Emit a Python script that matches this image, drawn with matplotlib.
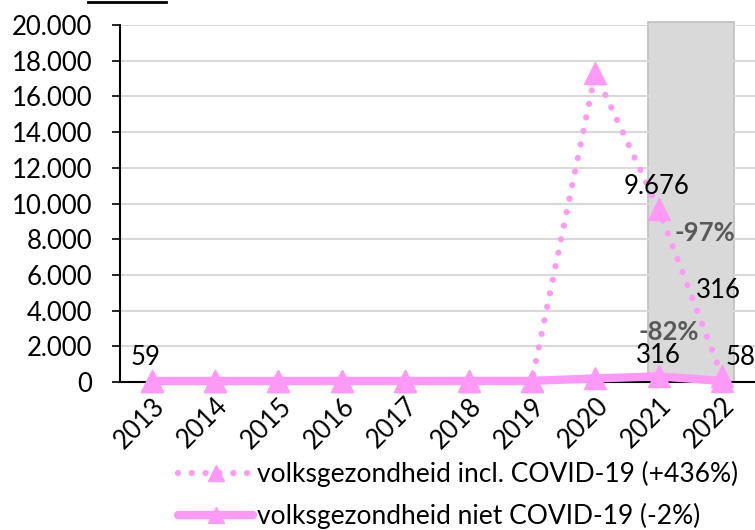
import matplotlib
matplotlib.use("Agg")
import matplotlib.pyplot as plt
from matplotlib.lines import Line2D

years = [2013, 2014, 2015, 2016, 2017, 2018, 2019, 2020, 2021, 2022]
incl_covid = [59, 60, 58, 61, 60, 62, 64, 17300, 9676, 316]
niet_covid = [59, 60, 58, 61, 60, 62, 64, 200, 316, 58]
yticks = [0, 2000, 4000, 6000, 8000, 10000, 12000, 14000, 16000, 18000, 20000]
ytick_labels = ["0", "2.000", "4.000", "6.000", "8.000", "10.000", "12.000",
                "14.000", "16.000", "18.000", "20.000"]
label_incl = "volksgezondheid incl. COVID-19 (+436%)"
label_niet = "volksgezondheid niet COVID-19 (-2%)"

plt.rcParams['font.family'] = ['Lato', 'DejaVu Sans']
pink = '#FF99F8'
fs = 18.5

fig = plt.figure(figsize=(7.55, 5.3), dpi=100)
ax = fig.add_axes([120/755, 1-382/530, 1-120/755, (382-25)/530])

ax.axvspan(2021 - 0.17, 2022 + 0.19, ymin=0, ymax=1.008, color='#D9D9D9',
           ec='#BFBFBF', lw=1.2, zorder=0, clip_on=False)

ax.plot(years, niet_covid, color=pink, lw=6, marker='^', ms=16,
        solid_capstyle='round', zorder=3, clip_on=False)
ax.plot(years, incl_covid, color=pink, lw=4.5, linestyle=(0, (0.01, 2.2)),
        dash_capstyle='round', marker='^', ms=16, zorder=4, clip_on=False)

ax.set_xlim(2012.5, 2022.52)
ax.set_ylim(0, 20000)
ax.set_yticks(yticks)
ax.set_yticklabels(ytick_labels, fontsize=fs)
ax.set_xticks(years)
ax.set_xticklabels([str(y) for y in years], fontsize=fs, rotation=45,
                   ha='right', rotation_mode='anchor')
ax.tick_params(axis='x', length=0, pad=8)
ax.tick_params(axis='y', length=6, width=1.2, direction='out', pad=14)
ax.grid(axis='y', color='#D9D9D9', lw=1.5, zorder=0)
ax.set_axisbelow(True)
for s in ['top', 'right']:
    ax.spines[s].set_visible(False)
ax.spines['left'].set_linewidth(1.5)
ax.spines['bottom'].set_linewidth(1.5)

kw = dict(fontsize=fs, ha='center', va='center', color='black', zorder=6)
ax.text(2012.9, 1400, "59", **kw)
ax.text(2020.97, 10980, "9.676", **kw)
ax.text(2021.94, 5150, "316", **kw)
ax.text(2020.99, 1510, "316", **kw)
ax.text(2022.3, 1400, "58", clip_on=False, **kw)
ax.text(2021.73, 8350, "-97%", fontsize=fs, ha='center', va='center',
        color='#595959', fontweight='bold', zorder=6)
ax.text(2021.16, 2800, "-82%", fontsize=fs, ha='center', va='center',
        color='#595959', fontweight='bold', zorder=6)

h1 = Line2D([], [], color=pink, lw=4.5, linestyle=(0, (0.01, 2.2)),
            dash_capstyle='round', marker='^', ms=12)
h2 = Line2D([], [], color=pink, lw=6, marker='^', ms=12, solid_capstyle='round')
fig.legend([h1, h2], [label_incl, label_niet], loc='upper left',
           bbox_to_anchor=(178/755, 1-461/530), frameon=False, fontsize=19,
           handlelength=2.85, handletextpad=0.15, labelspacing=0.6,
           borderaxespad=0, borderpad=0)

fig.add_artist(Line2D([88/755, 166/755], [1-1.5/530, 1-1.5/530],
                      color='black', lw=2))

fig.savefig("out.png", dpi=100)
